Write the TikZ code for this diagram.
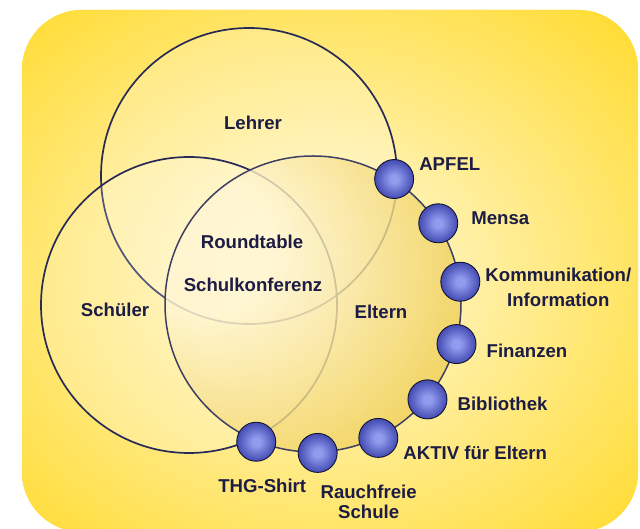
\documentclass[tikz,border=0pt]{standalone}
\usepackage{fontspec}
\setmainfont{Liberation Sans}
\usetikzlibrary{calc}
\usetikzlibrary{positioning}
\usepackage{xcolor}
\definecolor{bggold}{RGB}{255,216,28}
\definecolor{bgcream}{RGB}{255,250,226}
\definecolor{elcream}{RGB}{255,246,210}
\definecolor{elgold}{RGB}{236,198,60}
\definecolor{rimnavy}{RGB}{40,42,88}
\definecolor{txtnavy}{RGB}{28,28,68}
\definecolor{knobin}{RGB}{146,156,238}
\definecolor{knobmid}{RGB}{78,86,186}
\definecolor{knobout}{RGB}{28,31,92}
\pgfdeclareradialshading{elternshade}{\pgfpoint{-22bp}{12bp}}{color(0bp)=(elcream); color(12bp)=(elcream); color(44bp)=(elgold); color(80bp)=(elgold)}
\pgfdeclareradialshading{knobshade}{\pgfpoint{0bp}{0bp}}{color(0bp)=(knobin); color(5bp)=(knobin); color(22bp)=(knobmid); color(42bp)=(knobout); color(50bp)=(knobout)}

\begin{document}
\begin{tikzpicture}[x=1pt,y=1pt,
  ring/.style={line width=1.7pt, draw=rimnavy},
  knob/.style={circle, minimum size=39pt, inner sep=0pt, draw=knobout!60!black, line width=.9pt, shading=knobshade},
  lbl/.style={font=\fontsize{18.6}{22}\selectfont\bfseries, text=txtnavy, inner sep=0pt, align=center}]
\useasboundingbox (0,0) rectangle (640,529);
\begin{scope}
\clip[rounded corners=60pt] (22,-3) rectangle (638,519);
\fill[bggold] (0,-5) rectangle (640,529);
\shade[inner color=bgcream, outer color=bggold] (320,252) ellipse (490 and 410);
\end{scope}
\coordinate (L) at (249,353);
\coordinate (S) at (189,224);
\coordinate (E) at (313,225);
\draw[ring, fill=white, fill opacity=.2] (L) circle (148);
\draw[ring, fill=white, fill opacity=.2] (S) circle (148);
\shade[shading=elternshade, fill opacity=.8] (E) circle (148);
\draw[line width=1.5pt, draw=rimnavy!75!gray] (E) circle (148);
\foreach \nm [count=\i from 0] in {apfel,mensa,komm,finanz,biblio,aktiv,rauch,thg}
  \node[knob] (\nm) at ($(E)+({57-24.2*\i}:149)$) {};
\node[lbl] (lehrer) at (253,406) {Lehrer};
\node[lbl] (schueler) at (115,219) {Schüler};
\node[lbl] (eltern) at (381,217) {Eltern};
\node[lbl] (roundtable) at (252,287) {Roundtable};
\node[lbl] (skonf) at (253,244) {Schulkonferenz};
\node[lbl, right=5pt of apfel, yshift=15pt] (apfeltxt) {APFEL};
\node[lbl, right=13pt of mensa, yshift=5pt] (mensatxt) {Mensa};
\node[lbl, right=5pt of komm, yshift=-6pt] (kommtxt) {Kommunikation/\\[3pt]Information};
\node[lbl, right=10pt of finanz, yshift=-7pt] (finanztxt) {Finanzen};
\node[lbl, right=10pt of biblio, yshift=-4pt] (bibliotxt) {Bibliothek};
\node[lbl, right=5pt of aktiv, yshift=-15pt] (aktivtxt) {AKTIV für Eltern};
\node[lbl, below=12pt of rauch, xshift=51pt] (rauchtxt) {Rauchfreie\\[-2pt]Schule};
\node[lbl, below=17pt of thg, xshift=6pt] (thgtxt) {THG-Shirt};
\end{tikzpicture}
\end{document}
